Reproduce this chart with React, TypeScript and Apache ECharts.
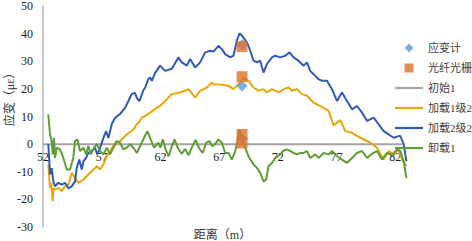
import { useEffect, useRef } from 'react';
import * as echarts from 'echarts';

const xTickLabels = [52, 57, 62, 67, 72, 77, 82];
const seriesNames = ['应变计', '光纤光栅', '初始1', '加载1级2', '加载2级2', '卸载1'];

const gaugeStrain = [[68.95, 36], [68.95, 21], [68.95, 2]];
const fbgStrain = [[68.95, 35.3], [68.95, 24.4], [68.95, 3.5], [68.95, 0.4]];
const initial1 = [[52, 0], [82.6, 0]];

const load1 = [
  [52.45, -7.4], [52.6, -15.9], [52.7, -14], [52.83, -20.7], [52.9, -16], [53.02, -16.4], [53.3, -15.9],
  [53.59, -17], [53.88, -15.3], [54.16, -14.7], [54.45, -10.4], [54.73, -12.2], [55.01, -14], [55.44, -12.8],
  [55.86, -11], [56.15, -9.8], [56.58, -8], [56.86, -9.2], [57.14, -7.4], [57.43, -4.4], [57.71, -2.5],
  [57.99, -0.7], [58.28, 1.1], [58.42, 0.5], [58.85, 2.3], [59.14, 3.5], [59.7, 5.3], [59.99, 7.2],
  [60.27, 8.4], [60.41, 9.6], [60.7, 10.2], [61.12, 11.4], [61.69, 13.2], [61.97, 13.8], [62.4, 15.6],
  [62.97, 18.1], [63.68, 18.7], [64.39, 19.9], [64.96, 16.8], [65.38, 19.3], [65.96, 20.5], [66.38, 22.3],
  [66.52, 21.7], [67.09, 21.6], [67.8, 21.1], [68.22, 19.9], [68.65, 21.7], [69.08, 24.1], [69.5, 22.9],
  [69.93, 20.5], [70.35, 19.3], [70.78, 19.9], [71.07, 18.7], [71.5, 19.9], [72.06, 18.7], [72.49, 19.9],
  [72.91, 20.5], [73.2, 19.3], [73.63, 19.9], [74.05, 18.1], [74.48, 17.5], [75.04, 15], [75.61, 13.8],
  [76.32, 12], [76.75, 6.8], [77.32, 8.7], [77.75, 4.7], [78.32, 4.1], [79.02, 2.3], [79.88, 0.5],
  [80.45, -1.3], [81.01, -5.6], [81.44, -2.5], [81.86, -3.7], [82.29, -1.9], [82.58, -5.6], [82.95, -8],
];

const load2 = [
  [52.45, 0], [52.6, -11], [52.74, -8.7], [52.88, -13.5], [53.02, -15.3], [53.3, -14], [53.59, -14.7],
  [53.88, -14], [54.16, -16], [54.45, -15.3], [54.73, -13.5], [54.87, -8.7], [55.09, -5.6], [55.3, -9.2],
  [55.44, -6.2], [55.67, -5], [55.86, -3.2], [56.15, -2.5], [56.43, -1.4], [56.63, -3.7], [56.86, -1.4],
  [57.14, 2.2], [57.37, 4.7], [57.57, 2.2], [57.86, 7.3], [58.14, 9.5], [58.56, 10.9], [58.99, 13.1],
  [59.27, 15.6], [59.56, 18.2], [59.84, 18.5], [59.99, 16.7], [60.21, 15.6], [60.55, 19.5], [60.7, 20.5],
  [60.98, 23.6], [61.12, 24.1], [61.27, 22.9], [61.55, 25.8], [61.97, 28.4], [62.4, 26.5], [62.97, 27.3],
  [63.53, 31.4], [63.82, 29.6], [64.25, 28.4], [64.53, 30.8], [64.96, 27.7], [65.38, 29.6], [65.81, 33.2],
  [66.24, 33.8], [66.52, 33.5], [66.94, 35.6], [67.23, 34.4], [67.52, 32.6], [67.94, 31.4], [68.22, 32],
  [68.51, 37.5], [68.73, 40.1], [68.94, 39.3], [69.37, 36.8], [69.65, 33.8], [69.93, 30.2], [70.22, 29.6],
  [70.5, 30.2], [70.78, 25.9], [71.07, 29], [71.5, 31.4], [71.78, 32], [72.2, 31.4], [72.63, 32],
  [73, 33.2], [73.34, 31.4], [73.76, 30.2], [74.19, 28.4], [74.48, 29.6], [74.76, 26.5], [75.19, 24.7],
  [75.47, 23.5], [75.76, 22.9], [76.19, 22.9], [76.61, 19.9], [77.04, 15.6], [77.46, 18.7], [77.89, 15.6],
  [78.32, 12.6], [78.74, 13.8], [79.17, 11.4], [79.6, 8.4], [80.16, 9.6], [80.58, 7.2], [81.01, 4.7],
  [81.44, 3.5], [81.86, 2.3], [82.29, 2.9], [82.43, 2.9], [82.72, 0], [82.95, -6.2],
];

const unload1 = [
  [52.45, 10.8], [52.6, 3.5], [52.74, 1.1], [52.83, -3.7], [52.94, 2.3], [53.02, -5], [53.17, -1.3],
  [53.45, -1.9], [53.73, -5], [54.02, -9.2], [54.3, -9.2], [54.58, -5], [54.73, 1.1], [54.92, 1.7],
  [55.15, -2.5], [55.44, -1.3], [55.67, -3.7], [55.86, -0.7], [56.07, -3.7], [56.35, -1.3], [56.58, 0],
  [56.86, -2.5], [57.14, -3.7], [57.43, -1.3], [57.71, -3.7], [57.99, -1.3], [58.28, 1.1], [58.56, 0.5],
  [58.85, -1.9], [59.14, -1.3], [59.42, 0], [59.7, -1.3], [59.99, -3.2], [60.27, -0.7], [60.61, 2.3],
  [60.89, 4.7], [61.12, 2.3], [61.46, -1.3], [61.83, 0.5], [62.0, -1.3], [62.2, 1.8], [62.45, -2],
  [62.7, -4.4], [62.95, -1], [63.2, 1.7], [63.5, -1.5], [63.8, -3.5], [64.1, -1.8], [64.4, -4],
  [64.7, -1], [65, 1.5], [65.3, -1.5], [65.6, -3.2], [65.9, 0.5], [66.2, 1.1], [66.4, -0.7], [66.66, 0],
  [66.94, 1.7], [67.23, 0.5], [67.52, -3.2], [67.8, -3.2], [68.08, -5.6], [68.37, -2.5], [68.57, 1.1],
  [68.74, 5.2], [68.94, 2.3], [69.22, -1.3], [69.5, -4.4], [69.93, -7.4], [70.22, -8.6], [70.5, -10.4],
  [70.78, -13.5], [71.01, -12.8], [71.2, -8], [71.5, -6.8], [71.78, -5], [72.2, -3.7], [72.49, -2.3],
  [72.77, -1.9], [73.06, -2.5], [73.34, -3.2], [73.63, -3.7], [73.91, -3.2], [74.19, -3.2], [74.48, -2.5],
  [74.76, -5], [75.19, -3.7], [75.47, -5], [75.9, -3.2], [76.33, -3.7], [76.61, -2.5], [77.04, -4.4],
  [77.46, -5.6], [77.89, -6.8], [78.32, -5], [78.74, -3.2], [79.17, -2.5], [79.6, -5], [80.0, -3.5],
  [80.44, -2.5], [80.87, -5.6], [81.3, -3.2], [81.72, -4], [82.15, -1.9], [82.43, -2.5], [82.72, -6.2],
  [82.95, -12.3],
];

const FONT = "'Liberation Serif', 'Noto Sans CJK SC', serif";
const LINE_ICON = 'path://M0,0 H28 V2.2 H0 Z';
const SQUARE_ICON = 'path://M0,0 H8 V8 H0 Z';
const DIAMOND_ICON = 'path://M4,0 L8,4 L4,8 L0,4 Z';

export default function App() {
  const ref = useRef<HTMLDivElement>(null);
  useEffect(() => {
    if (!ref.current) return;
    const chart = echarts.init(ref.current, undefined, { renderer: 'svg' });
    const lineSeries = (name: string, data: number[][], color: string) => ({
      name,
      type: 'line',
      data,
      symbol: 'none',
      lineStyle: { color, width: 2 },
      itemStyle: { color },
      z: 2,
    });
    // grid: top 6, bottom 14 → plot height 221; y = 0 lies 30/80 of it above the bottom
    const zeroOffset = -(221 * 30) / 80;
    chart.setOption({
      animation: false,
      backgroundColor: '#ffffff',
      grid: { left: 43, right: 65, top: 6, bottom: 14, containLabel: false, outerBoundsMode: 'none' },
      legend: {
        orient: 'vertical',
        left: 395,
        top: 41,
        padding: 0,
        itemWidth: 28,
        itemHeight: 9,
        itemGap: 6,
        textStyle: { fontFamily: FONT, fontSize: 11, color: '#404040', lineHeight: 14 },
        data: [
          { name: seriesNames[0], icon: DIAMOND_ICON },
          { name: seriesNames[1], icon: SQUARE_ICON },
          { name: seriesNames[2], icon: LINE_ICON },
          { name: seriesNames[3], icon: LINE_ICON },
          { name: seriesNames[4], icon: LINE_ICON },
          { name: seriesNames[5], icon: LINE_ICON },
        ],
      },
      xAxis: {
        type: 'value',
        min: 52,
        max: 83,
        interval: 5,
        position: 'bottom',
        offset: zeroOffset,
        axisLine: { show: false, onZero: false },
        axisTick: { show: false },
        splitLine: { show: false },
        axisLabel: {
          fontFamily: FONT,
          fontSize: 12,
          color: '#222',
          margin: 7,
          formatter: (v: number) => (xTickLabels.includes(Math.round(v)) && Math.abs(v - Math.round(v)) < 1e-6 ? String(Math.round(v)) : ''),
        },
        name: '距离（m）',
        nameLocation: 'middle',
        nameGap: 85,
        nameMoveOverlap: false,
        nameTextStyle: { fontFamily: FONT, fontSize: 12, color: '#333', padding: [0, 5, 0, 0] },
      },
      yAxis: {
        type: 'value',
        min: -30,
        max: 50,
        interval: 10,
        axisLine: { show: true, lineStyle: { color: '#B4B4B4', width: 1.5 } },
        axisTick: { show: false },
        splitLine: { show: false },
        axisLabel: { fontFamily: FONT, fontSize: 12, color: '#222', margin: 10 },
        name: '应变（με）',
        nameLocation: 'middle',
        nameGap: 27,
        nameMoveOverlap: false,
        nameTextStyle: { fontFamily: FONT, fontSize: 12, color: '#333', padding: [0, 0, 0, 40] },
      },
      series: [
        {
          name: '应变计',
          type: 'scatter',
          data: gaugeStrain,
          symbol: 'diamond',
          symbolSize: 11,
          itemStyle: { color: '#5B9BD5' },
          z: 3,
        },
        {
          name: '光纤光栅',
          type: 'scatter',
          data: fbgStrain,
          symbol: 'rect',
          symbolSize: 11,
          itemStyle: { color: '#E0712C' },
          z: 4,
        },
        lineSeries('初始1', initial1, '#A5A5A5'),
        lineSeries('加载1级2', load1, '#E9A70B'),
        lineSeries('加载2级2', load2, '#2F5BB7'),
        lineSeries('卸载1', unload1, '#5E9E34'),
      ],
    });
    return () => chart.dispose();
  }, []);
  return <div ref={ref} style={{ position: 'fixed', left: 0, top: 0, width: 472, height: 241 }} />;
}
